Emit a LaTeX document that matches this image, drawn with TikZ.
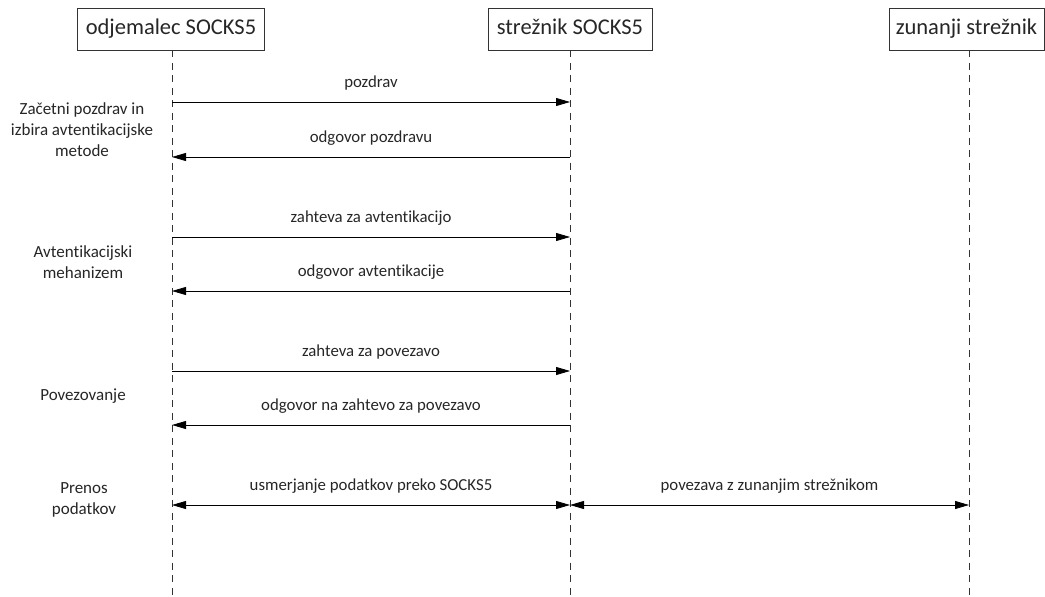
\documentclass[tikz,border=0pt]{standalone}
\usepackage{fontspec}
\setmainfont{Carlito}[Ligatures=NoCommon]
\usetikzlibrary{arrows.meta}
\begin{document}
\begin{tikzpicture}[x=1pt,y=-1pt,
  actor/.style={draw=black!80,line width=0.8pt,fill=white,minimum height=42pt,inner xsep=4pt,
    text=black!85,text height=15pt,text depth=4pt,font=\fontsize{22.5}{24}\selectfont,anchor=center},
  lifeline/.style={draw=black!80,line width=0.8pt,dash pattern=on 7pt off 5.5pt},
  tip/.tip={Triangle[length=14pt,width=8pt]},
  msg/.style={draw=black,line width=0.8pt,-tip},
  bimsg/.style={draw=black,line width=0.8pt,tip-tip},
  lbl/.style={text=black!85,font=\fontsize{16.8}{18}\selectfont,inner sep=0pt,anchor=base,yshift=15pt},
  phase/.style={text=black!85,font=\fontsize{17}{21}\selectfont,align=center,inner sep=0pt}]
\useasboundingbox (0,0) rectangle (1045,597);
% participants
\node[actor,minimum width=187pt] (cli) at (171,29) {odjemalec SOCKS5};
\node[actor,minimum width=164pt] (srv) at (570,29) {strežnik SOCKS5};
\node[actor,minimum width=155pt] (ext) at (966.5,29) {zunanji strežnik};
% lifelines
\coordinate (cliEnd) at (172,597);
\coordinate (srvEnd) at (570,597);
\coordinate (extEnd) at (969,597);
\draw[lifeline] (cli.south -| cliEnd) -- (cliEnd);
\draw[lifeline] (srv.south) -- (srvEnd);
\draw[lifeline] (ext.south -| extEnd) -- (extEnd);
% message anchors on the lifelines
\foreach \n/\y in {a/102,b/157,c/237,d/291,e/371,f/425,g/505}{
  \coordinate (c\n) at (172,\y);
  \coordinate (s\n) at (570,\y);
}
\coordinate (xg) at (969,505);
% messages
\draw[msg] (ca) -- node[lbl] {pozdrav} (sa);
\draw[msg] (sb) -- node[lbl] {odgovor pozdravu} (cb);
\draw[msg] (cc) -- node[lbl] {zahteva za avtentikacijo} (sc);
\draw[msg] (sd) -- node[lbl] {odgovor avtentikacije} (cd);
\draw[msg] (ce) -- node[lbl] {zahteva za povezavo} (se);
\draw[msg] (sf) -- node[lbl] {odgovor na zahtevo za povezavo} (cf);
\draw[bimsg] (cg) -- node[lbl] {usmerjanje podatkov preko SOCKS5} (sg);
\draw[bimsg] (sg) -- node[lbl] {povezava z zunanjim strežnikom} (xg);
% phases
\node[phase] (p1) at (82,130) {Začetni pozdrav in\\izbira avtentikacijske\\metode};
\node[phase] (p2) at (83,262) {Avtentikacijski\\mehanizem};
\node[phase] (p3) at (83,396) {Povezovanje};
\node[phase] (p4) at (84,500) {Prenos\\podatkov};
\end{tikzpicture}
\end{document}
